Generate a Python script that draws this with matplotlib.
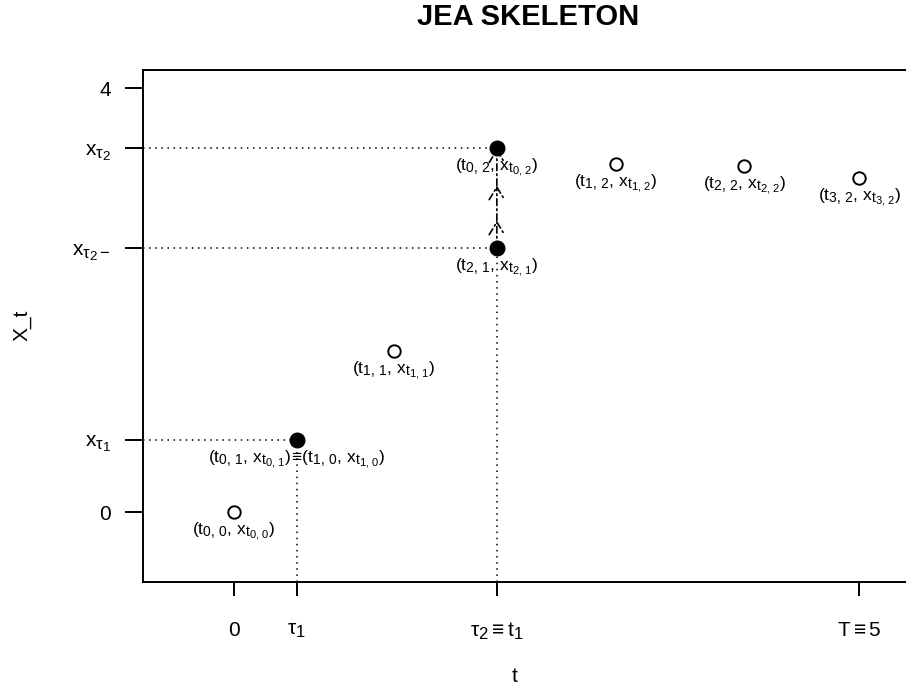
import matplotlib.pyplot as plt
import matplotlib._mathtext as mathtext_impl

# R plotmath subscripts shrink less than matplotlib's default
mathtext_impl.SHRINK_FACTOR = 0.8

plt.rcParams['font.family'] = ['Liberation Sans', 'DejaVu Sans']
plt.rcParams['mathtext.fontset'] = 'custom'
plt.rcParams['mathtext.rm'] = 'Liberation Sans'
plt.rcParams['mathtext.it'] = 'Liberation Sans'
plt.rcParams['mathtext.bf'] = 'Liberation Sans:bold'

# skeleton points (time, value)
open_t = [0.0, 1.28, 3.05, 4.08, 5.0]
open_x = [0.0, 1.52, 3.28, 3.26, 3.15]
open_labels = [r'$(t_{0,\,0},\,x_{t_{0,\,0}})$', r'$(t_{1,\,1},\,x_{t_{1,\,1}})$',
               r'$(t_{1,\,2},\,x_{t_{1,\,2}})$', r'$(t_{2,\,2},\,x_{t_{2,\,2}})$',
               r'$(t_{3,\,2},\,x_{t_{3,\,2}})$']

jump_t = [0.5, 2.1, 2.1]
jump_x = [0.68, 2.49, 3.43]
jump_labels = [r'$(t_{0,\,1},\,x_{t_{0,\,1}})\!\equiv\!(t_{1,\,0},\,x_{t_{1,\,0}})$',
               r'$(t_{2,\,1},\,x_{t_{2,\,1}})$', r'$(t_{0,\,2},\,x_{t_{0,\,2}})$']

# jump arrow pieces from x_tau2- up to x_tau2
arrow_steps = [2.49, 2.75, 3.08, 3.43]

xtick_pos = [0, 0.5, 2.1, 5]
xtick_lab = ['0', r'$\tau_1$', r'$\tau_2 \equiv t_1$', r'$T \equiv 5$']
ytick_pos = [0, 0.68, 2.49, 3.43, 4]
ytick_lab = ['0', r'$x_{\tau_1}$', r'$x_{\tau_2-}$', r'$x_{\tau_2}$', '4']

fig = plt.figure(figsize=(9.06, 6.87), dpi=100)
ax = fig.add_axes([143 / 906, 105 / 687, 809 / 906, 512 / 687])
ax.set_xlim(-0.73, 5.74)
ax.set_ylim(-0.66, 4.17)
for sp in ax.spines.values():
    sp.set_linewidth(1.4)

# dotted guide lines
dot = dict(color='black', lw=1.1, dashes=(1, 3))
ax.plot([-0.73, jump_t[0]], [jump_x[0], jump_x[0]], **dot)
ax.plot([jump_t[0], jump_t[0]], [-0.66, jump_x[0]], **dot)
ax.plot([-0.73, jump_t[1]], [jump_x[1], jump_x[1]], **dot)
ax.plot([-0.73, jump_t[2]], [jump_x[2], jump_x[2]], **dot)
ax.plot([jump_t[1], jump_t[1]], [-0.66, jump_x[1]], **dot)

# dash-dot jump arrows
for y0, y1 in zip(arrow_steps[:-1], arrow_steps[1:]):
    ax.annotate('', xy=(jump_t[1], y1), xytext=(jump_t[1], y0),
                arrowprops=dict(arrowstyle='->,head_length=0.9,head_width=0.55',
                                lw=1.2, linestyle=(0, (4, 2, 1, 2)), color='black',
                                shrinkA=0, shrinkB=0))

ax.scatter(open_t, open_x, s=80, facecolor='white', edgecolor='black', lw=1.4, zorder=5)
ax.scatter(jump_t, jump_x, s=110, color='black', zorder=5)

for t, x, lab in zip(open_t + jump_t, open_x + jump_x, open_labels + jump_labels):
    ax.annotate(lab, (t, x), xytext=(0, -14), textcoords='offset points',
                ha='center', va='center', fontsize=12.5, zorder=6)

ax.set_xticks(xtick_pos)
ax.set_xticklabels(xtick_lab)
ax.set_yticks(ytick_pos)
ax.set_yticklabels(ytick_lab)
ax.tick_params(axis='x', length=10, width=1.4, pad=18, labelsize=15)
ax.tick_params(axis='y', length=13, width=1.4, pad=10, labelsize=15)

fig.text(22 / 906, 1 - 325 / 687, 'X_t', rotation=90, ha='center', va='center', fontsize=15)
fig.text(515 / 906, 1 - 677 / 687, 't', ha='center', va='center', fontsize=15)
fig.text(528 / 906, 1 - 17 / 687, 'JEA SKELETON', ha='center', va='center',
         fontsize=21, fontweight='bold')

fig.savefig('out.png', dpi=100)
